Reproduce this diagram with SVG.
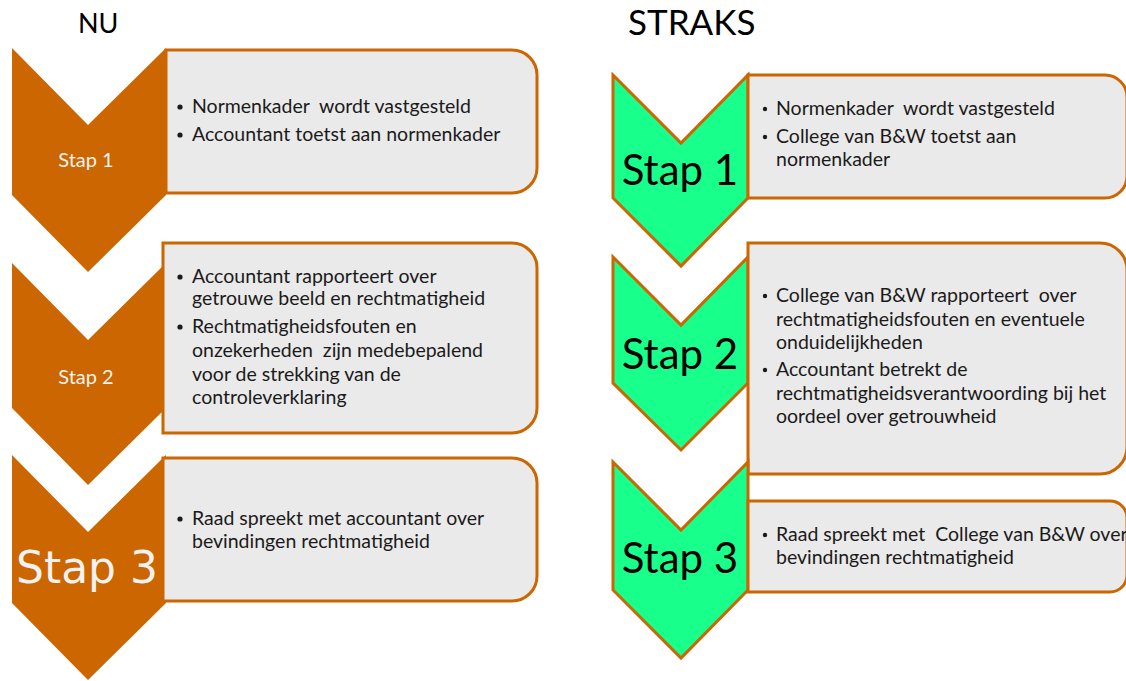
<svg xmlns="http://www.w3.org/2000/svg" width="1126" height="681" viewBox="0 0 1126 681">
<style>
.bg{fill:#ffffff}
.chevL{fill:#CC6600}
.chevR{fill:#19FF8C;stroke:#CC6600;stroke-width:3;stroke-linejoin:miter}
.box{fill:#EAEAEA;stroke:#CC6600;stroke-width:3}
.title{font-family:Lato,"Liberation Sans",sans-serif;fill:#000}
.txt{font-family:Lato,"Liberation Sans",sans-serif;font-size:19.5px;fill:#1a1a1a;white-space:pre}
.bul{fill:#1a1a1a}
.stapS{font-family:Lato,"Liberation Sans",sans-serif;font-size:20px;fill:#F2F2F2;text-anchor:middle}
.stapBig{font-family:"DejaVu Sans",sans-serif;font-size:44px;fill:#F2F2F2;text-anchor:middle}
.stapR{font-family:Lato,"Liberation Sans",sans-serif;font-size:42px;fill:#000;text-anchor:middle}
</style>
<rect class="bg" x="0" y="0" width="1126" height="681"/>
<text class="title" x="78" y="33" font-size="27">NU</text>
<text class="title" x="628" y="35" font-size="35">STRAKS</text>

<g id="nu-stap1">
<polygon class="chevL" points="12,48 88,125 166,48 166,195 88,272 12,195"/>
<path class="box" d="M166,50 H512 A25,25 0 0 1 537,75 V168 A25,25 0 0 1 512,193 H166 Z"/>
<text class="stapS" x="86" y="167">Stap 1</text>
<circle class="bul" cx="180" cy="107" r="2.6"/>
<text class="txt" x="192" y="113" xml:space="preserve">Normenkader  wordt vastgesteld</text>
<circle class="bul" cx="180" cy="135" r="2.6"/>
<text class="txt" x="192" y="141">Accountant toetst aan normenkader</text>
</g>

<g id="nu-stap2">
<polygon class="chevL" points="12,263 88,340 166,263 166,408 88,485 12,408"/>
<path class="box" d="M163,243 H512 A25,25 0 0 1 537,268 V408 A25,25 0 0 1 512,433 H163 Z"/>
<text class="stapS" x="86" y="384">Stap 2</text>
<circle class="bul" cx="180" cy="277" r="2.6"/>
<text class="txt" x="192" y="283">Accountant rapporteert over</text>
<text class="txt" x="192" y="305">getrouwe beeld en rechtmatigheid</text>
<circle class="bul" cx="180" cy="327" r="2.6"/>
<text class="txt" x="192" y="333">Rechtmatigheidsfouten en</text>
<text class="txt" x="192" y="357" xml:space="preserve">onzekerheden  zijn medebepalend</text>
<text class="txt" x="192" y="381">voor de strekking van de</text>
<text class="txt" x="192" y="404">controleverklaring</text>
</g>

<g id="nu-stap3">
<polygon class="chevL" points="12,455 88,532 166,455 166,603 88,680 12,603"/>
<path class="box" d="M163,458 H512 A25,25 0 0 1 537,483 V576 A25,25 0 0 1 512,601 H163 Z"/>
<text class="stapBig" x="87" y="583">Stap 3</text>
<circle class="bul" cx="180" cy="519" r="2.6"/>
<text class="txt" x="192" y="525">Raad spreekt met accountant over</text>
<text class="txt" x="192" y="548">bevindingen rechtmatigheid</text>
</g>

<g id="straks-stap1">
<polygon class="chevR" points="613,75 681,143 748,75 748,198 681,266 613,198"/>
<path class="box" d="M748,75 H1105 A22,22 0 0 1 1127,97 V176 A22,22 0 0 1 1105,198 H748 Z"/>
<text class="stapR" x="680" y="185">Stap 1</text>
<circle class="bul" cx="765" cy="109" r="2.2"/>
<text class="txt" x="776" y="115" xml:space="preserve">Normenkader  wordt vastgesteld</text>
<circle class="bul" cx="765" cy="137" r="2.2"/>
<text class="txt" x="776" y="143">College van B&amp;W toetst aan</text>
<text class="txt" x="776" y="166">normenkader</text>
</g>

<g id="straks-stap2">
<polygon class="chevR" points="613,257 681,325 748,257 748,383 681,450 613,383"/>
<path class="box" d="M748,243 H1100 A27,27 0 0 1 1127,270 V447 A27,27 0 0 1 1100,474 H748 Z"/>
<text class="stapR" x="680" y="369">Stap 2</text>
<circle class="bul" cx="765" cy="296" r="2.2"/>
<text class="txt" x="776" y="302" xml:space="preserve">College van B&amp;W rapporteert  over</text>
<text class="txt" x="776" y="326">rechtmatigheidsfouten en eventuele</text>
<text class="txt" x="776" y="349">onduidelijkheden</text>
<circle class="bul" cx="765" cy="370" r="2.2"/>
<text class="txt" x="776" y="376">Accountant betrekt de</text>
<text class="txt" x="776" y="400">rechtmatigheidsverantwoording bij het</text>
<text class="txt" x="776" y="423">oordeel over getrouwheid</text>
</g>

<g id="straks-stap3">
<polygon class="chevR" points="613,462 681,530 748,462 748,590 681,658 613,590"/>
<path class="box" d="M748,501 H1110 A17,17 0 0 1 1127,518 V575 A17,17 0 0 1 1110,592 H748 Z"/>
<text class="stapR" x="680" y="573">Stap 3</text>
<circle class="bul" cx="765" cy="535" r="2.2"/>
<text class="txt" x="776" y="541" xml:space="preserve">Raad spreekt met  College van B&amp;W over</text>
<text class="txt" x="776" y="564">bevindingen rechtmatigheid</text>
</g>

<g id="connectors"></g>
</svg>
